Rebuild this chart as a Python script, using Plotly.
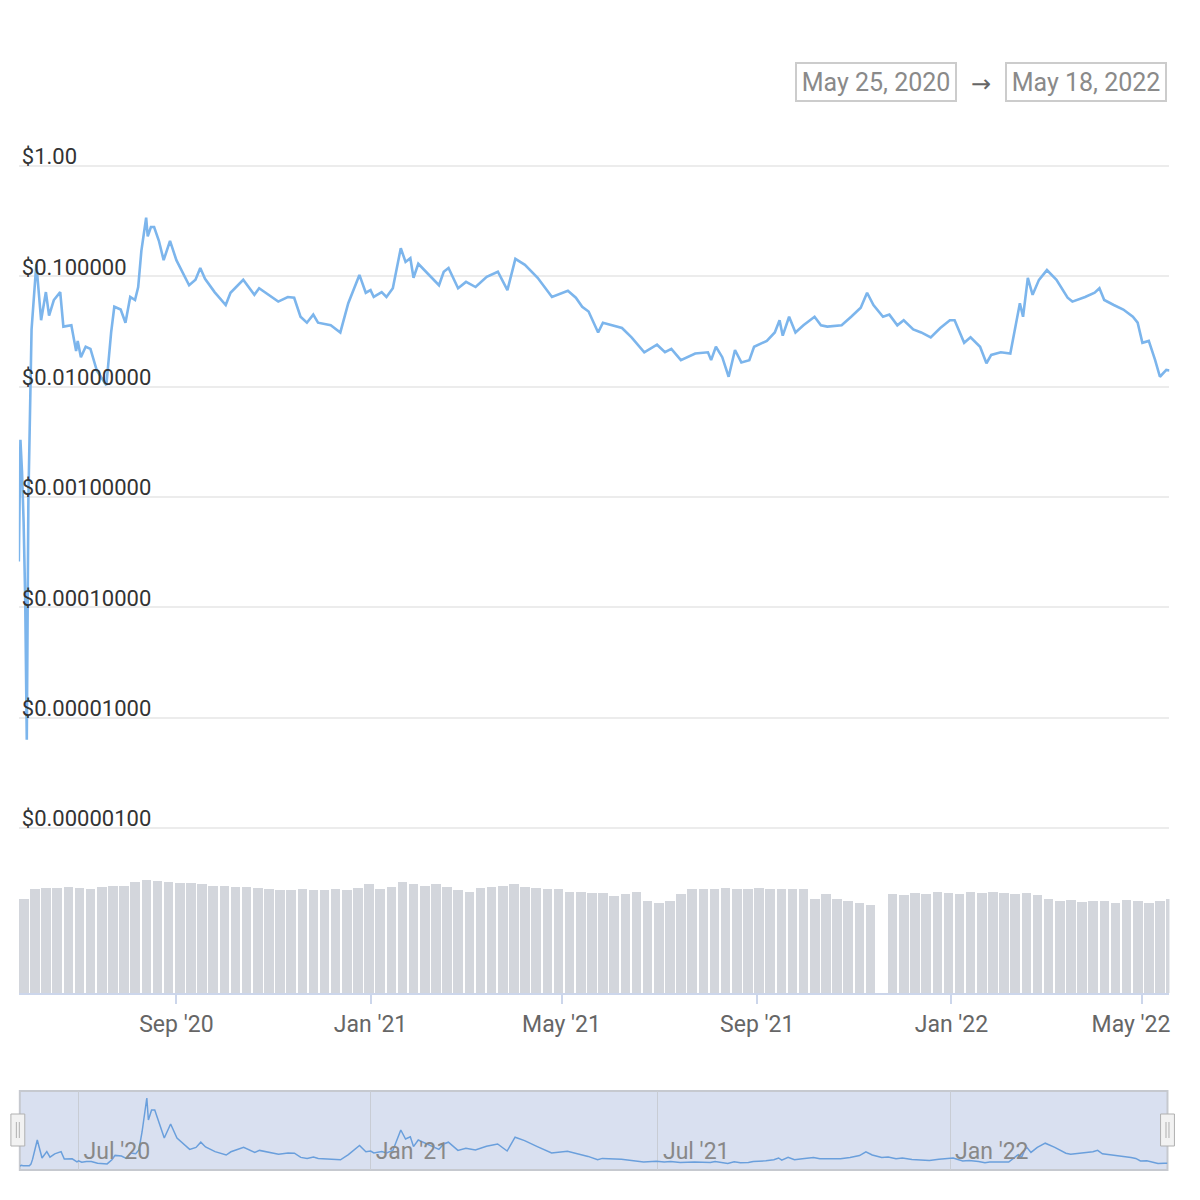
import pandas as pd
import plotly.graph_objects as go

# price in USD
price_dates = [
    "2020-05-25", "2020-05-26", "2020-05-27", "2020-05-28", "2020-05-29", "2020-05-30", "2020-05-31",
    "2020-06-01", "2020-06-02", "2020-06-05", "2020-06-08", "2020-06-11", "2020-06-13", "2020-06-16",
    "2020-06-20", "2020-06-22", "2020-06-27", "2020-06-30",
    "2020-07-01", "2020-07-03", "2020-07-06", "2020-07-09", "2020-07-13", "2020-07-19", "2020-07-22",
    "2020-07-24", "2020-07-28", "2020-07-31",
    "2020-08-03", "2020-08-06", "2020-08-08", "2020-08-10", "2020-08-13", "2020-08-14", "2020-08-16",
    "2020-08-18", "2020-08-21", "2020-08-24", "2020-08-28",
    "2020-09-01", "2020-09-09", "2020-09-13", "2020-09-16", "2020-09-19", "2020-09-25",
    "2020-10-02", "2020-10-05", "2020-10-13", "2020-10-20", "2020-10-23",
    "2020-11-04", "2020-11-10", "2020-11-14", "2020-11-18", "2020-11-22", "2020-11-26", "2020-11-29",
    "2020-12-07", "2020-12-13", "2020-12-18", "2020-12-25", "2020-12-29",
    "2021-01-01", "2021-01-03", "2021-01-08", "2021-01-11", "2021-01-15", "2021-01-20", "2021-01-23",
    "2021-01-26", "2021-01-28", "2021-01-31",
    "2021-02-07", "2021-02-13", "2021-02-16", "2021-02-19", "2021-02-25",
    "2021-03-02", "2021-03-08", "2021-03-15", "2021-03-22", "2021-03-28",
    "2021-04-02", "2021-04-08", "2021-04-16", "2021-04-25",
    "2021-05-05", "2021-05-10", "2021-05-14", "2021-05-18", "2021-05-24", "2021-05-27",
    "2021-06-08", "2021-06-14", "2021-06-22", "2021-06-30",
    "2021-07-05", "2021-07-09", "2021-07-15", "2021-07-24",
    "2021-08-01", "2021-08-03", "2021-08-06", "2021-08-10", "2021-08-14", "2021-08-18", "2021-08-22",
    "2021-08-27", "2021-08-30",
    "2021-09-07", "2021-09-12", "2021-09-15", "2021-09-17", "2021-09-21", "2021-09-25", "2021-09-30",
    "2021-10-07", "2021-10-11", "2021-10-15", "2021-10-24", "2021-10-30",
    "2021-11-05", "2021-11-09", "2021-11-13", "2021-11-19", "2021-11-23", "2021-11-28",
    "2021-12-02", "2021-12-08", "2021-12-13", "2021-12-19", "2021-12-25", "2021-12-31",
    "2022-01-03", "2022-01-09", "2022-01-13", "2022-01-19", "2022-01-23", "2022-01-26",
    "2022-02-01", "2022-02-07", "2022-02-13", "2022-02-15", "2022-02-18", "2022-02-21", "2022-02-25",
    "2022-03-02", "2022-03-08", "2022-03-15", "2022-03-18", "2022-03-26",
    "2022-04-01", "2022-04-04", "2022-04-07", "2022-04-13", "2022-04-19", "2022-04-25", "2022-04-28",
    "2022-05-01", "2022-05-05", "2022-05-09", "2022-05-12", "2022-05-16", "2022-05-18",
]
price_usd = [
    0.00026, 0.0033, 0.0017, 0.0006, 0.00012, 0.0000063, 0.00095,
    0.0093, 0.033, 0.13, 0.040, 0.072, 0.044, 0.061,
    0.072, 0.035, 0.036, 0.021,
    0.026, 0.0185, 0.023, 0.022, 0.014, 0.0103, 0.031,
    0.053, 0.050, 0.038,
    0.065, 0.061, 0.080, 0.17, 0.34, 0.23, 0.28,
    0.28, 0.21, 0.14, 0.21,
    0.14, 0.083, 0.093, 0.119, 0.095, 0.072,
    0.055, 0.071, 0.093, 0.068, 0.078,
    0.059, 0.065, 0.064, 0.043, 0.038, 0.045, 0.038,
    0.036, 0.031, 0.057, 0.103, 0.071,
    0.075, 0.065, 0.072, 0.065, 0.078, 0.18, 0.135,
    0.146, 0.097, 0.13,
    0.103, 0.083, 0.11, 0.119, 0.078,
    0.089, 0.080, 0.099, 0.11, 0.075,
    0.144, 0.127, 0.097, 0.065,
    0.074, 0.064, 0.053, 0.048, 0.031, 0.038,
    0.034, 0.028, 0.0205, 0.024,
    0.0205, 0.022, 0.0174, 0.020,
    0.0205, 0.0174, 0.023, 0.0185, 0.0123, 0.0215, 0.0166,
    0.0174, 0.023,
    0.026, 0.031, 0.040, 0.029, 0.043, 0.031, 0.036,
    0.043, 0.036, 0.035, 0.036, 0.043,
    0.052, 0.071, 0.055, 0.043, 0.045, 0.036,
    0.040, 0.033, 0.031, 0.028, 0.034, 0.040,
    0.040, 0.025, 0.028, 0.023, 0.0163, 0.0194,
    0.0205, 0.020, 0.057, 0.043, 0.097, 0.068, 0.093,
    0.114, 0.093, 0.064, 0.059, 0.065,
    0.071, 0.078, 0.061, 0.055, 0.050, 0.043, 0.038,
    0.025, 0.026, 0.0174, 0.0123, 0.0142, 0.014,
]

# weekly volume, relative bar height (no axis shown in the original)
volume_week_start = "2020-05-25"
volume_rel = [
    80, 88, 89, 89, 90, 89, 88, 90, 91, 91, 94, 96, 95, 94, 93, 93, 92, 91, 91, 90,
    90, 89, 88, 87, 87, 88, 87, 87, 88, 87, 89, 92, 88, 90, 94, 92, 91, 92, 90, 87,
    86, 89, 90, 91, 92, 90, 89, 88, 88, 86, 86, 85, 85, 82, 84, 86, 78, 76, 78, 84,
    88, 88, 88, 89, 88, 88, 89, 88, 88, 88, 88, 80, 84, 80, 78, 76, 75, 0, 84, 83,
    85, 84, 86, 85, 84, 86, 85, 86, 85, 84, 85, 83, 80, 78, 79, 77, 78, 78, 76, 79,
    78, 76, 78, 80,
]

y_tick_vals = [1, 0.1, 0.01, 0.001, 0.0001, 0.00001, 0.000001]
y_tick_text = ["$1.00", "$0.100000", "$0.01000000", "$0.00100000",
               "$0.00010000", "$0.00001000", "$0.00000100"]

x_tick_dates = ["2020-09-01", "2021-01-01", "2021-05-01", "2021-09-01", "2022-01-01", "2022-05-01"]
# last label is pulled left a little, the way the original keeps it inside the plot
x_tick_text = ["Sep '20", "Jan '21", "May '21", "Sep '21", "Jan '22", "May '22\u00a0\u00a0\u00a0\u00a0"]

start_label = "May 25, 2020"
end_label = "May 18, 2022"

W, H = 1200, 1200
# the photographed page comes out about 1% narrower than the figure, so
# horizontal pixel positions are measured against this width instead
X_SPAN = 1187.6
FONT = "Roboto"
LINE_BLUE = "#7cb5ec"
DECADE_PX = 110.33


def px_x(p):
    return p / X_SPAN


def px_y(p):
    return 1 - p / H


week_dates = pd.date_range(volume_week_start, periods=len(volume_rel), freq="7D")
day_ms = 24 * 3600 * 1000

fig = go.Figure()

fig.add_trace(go.Scatter(
    x=price_dates, y=price_usd, mode="lines", xaxis="x", yaxis="y",
    line=dict(color=LINE_BLUE, width=2.6), showlegend=False,
))
fig.add_trace(go.Bar(
    x=week_dates, y=volume_rel, xaxis="x", yaxis="y2",
    marker=dict(color="#d3d6dc", line=dict(width=0)),
    width=6.0 * day_ms, offset=0, showlegend=False,
))
fig.add_trace(go.Scatter(
    x=price_dates, y=price_usd, mode="lines", xaxis="x3", yaxis="y3",
    line=dict(color="#6a9fdc", width=1.5), showlegend=False,
))

x_dom = [px_x(19), px_x(1180)]
x_range = ["2020-05-25", "2022-05-18"]

# price pane: $1.00 grid at y=166, $0.000001 at y=828; pad the domain so edge labels show
price_top_px, price_bot_px = 126, 842
y_range = [-6 - (price_bot_px - 828) / DECADE_PX, (166 - price_top_px) / DECADE_PX]

fig.update_layout(
    width=W, height=H, autosize=False,
    margin=dict(l=0, r=0, t=0, b=0),
    paper_bgcolor="white", plot_bgcolor="rgba(0,0,0,0)",
    font=dict(family=FONT, color="#333333"),
    bargap=0,
    xaxis=dict(
        domain=x_dom, range=x_range, anchor="y2", type="date",
        tickvals=x_tick_dates, ticktext=x_tick_text,
        ticks="outside", ticklen=9, tickcolor="#ccd6eb", tickwidth=1.5,
        showline=True, linecolor="#ccd6eb", linewidth=2,
        showgrid=False, zeroline=False, ticklabeloverflow="allow",
        tickfont=dict(size=23, color="#666666"),
    ),
    yaxis=dict(
        domain=[px_y(price_bot_px), px_y(price_top_px)], type="log", range=y_range,
        tickvals=y_tick_vals, ticktext=y_tick_text,
        ticklabelposition="inside top", ticklabelshift=6,
        tickfont=dict(size=22, color="#333333"),
        showgrid=True, gridcolor="#ececec", gridwidth=1.5,
        zeroline=False, showline=False, anchor="x",
    ),
    yaxis2=dict(
        domain=[px_y(993), px_y(875)], range=[0, 100],
        showticklabels=False, showgrid=False, zeroline=False, anchor="x",
    ),
    xaxis3=dict(
        domain=[px_x(20), px_x(1178)], range=x_range, anchor="y3", type="date",
        tickformat="%b '%y", dtick="M6", tick0="2020-07-01",
        ticklabelposition="inside right", ticklabelshift=5, ticks="",
        showgrid=True, gridcolor="#c8ccd4", gridwidth=1,
        showline=False, zeroline=False,
        tickfont=dict(size=23, color="#888888"),
    ),
    yaxis3=dict(
        domain=[px_y(1170), px_y(1091)], range=[-0.02, 0.375],
        showticklabels=False, showgrid=False, zeroline=False, anchor="x3",
    ),
)

# navigator mask and outline
fig.add_shape(type="rect", xref="paper", yref="paper",
              x0=px_x(20), x1=px_x(1178), y0=px_y(1170), y1=px_y(1091),
              fillcolor="rgba(102,133,194,0.25)", line=dict(color="#c6c9cf", width=2),
              layer="below")

# navigator handles
for cx in (18, 1178):
    fig.add_shape(type="rect", xref="paper", yref="paper",
                  x0=px_x(cx - 7), x1=px_x(cx + 7), y0=px_y(1146), y1=px_y(1114),
                  fillcolor="#f2f2f2", line=dict(color="#b0b0b0", width=1))
    for dx in (-1.5, 1.5):
        fig.add_shape(type="line", xref="paper", yref="paper",
                      x0=px_x(cx + dx), x1=px_x(cx + dx), y0=px_y(1138), y1=px_y(1122),
                      line=dict(color="#b0b0b0", width=1))

# date range boxes
for label, cx in ((start_label, 884), (end_label, 1095.5)):
    fig.add_annotation(
        xref="paper", yref="paper", x=px_x(cx), y=px_y(82),
        xanchor="center", yanchor="middle",
        text=label, showarrow=False, width=158, height=36,
        font=dict(family=FONT, size=25, color="#8a8a8a"),
        bordercolor="#cccccc", borderwidth=2, borderpad=0, bgcolor="white",
    )
fig.add_annotation(xref="paper", yref="paper", x=px_x(990), y=px_y(84),
                   xanchor="center", yanchor="middle",
                   text="→", showarrow=False, font=dict(family="DejaVu Sans", size=24, color="#666666"))

# drop the default body margin so the 1200px figure sits flush in the window
fig.write_html(
    "out.html",
    config={"responsive": False, "displayModeBar": False},
    post_script="document.body.style.margin='0';document.body.style.overflow='hidden';",
)
